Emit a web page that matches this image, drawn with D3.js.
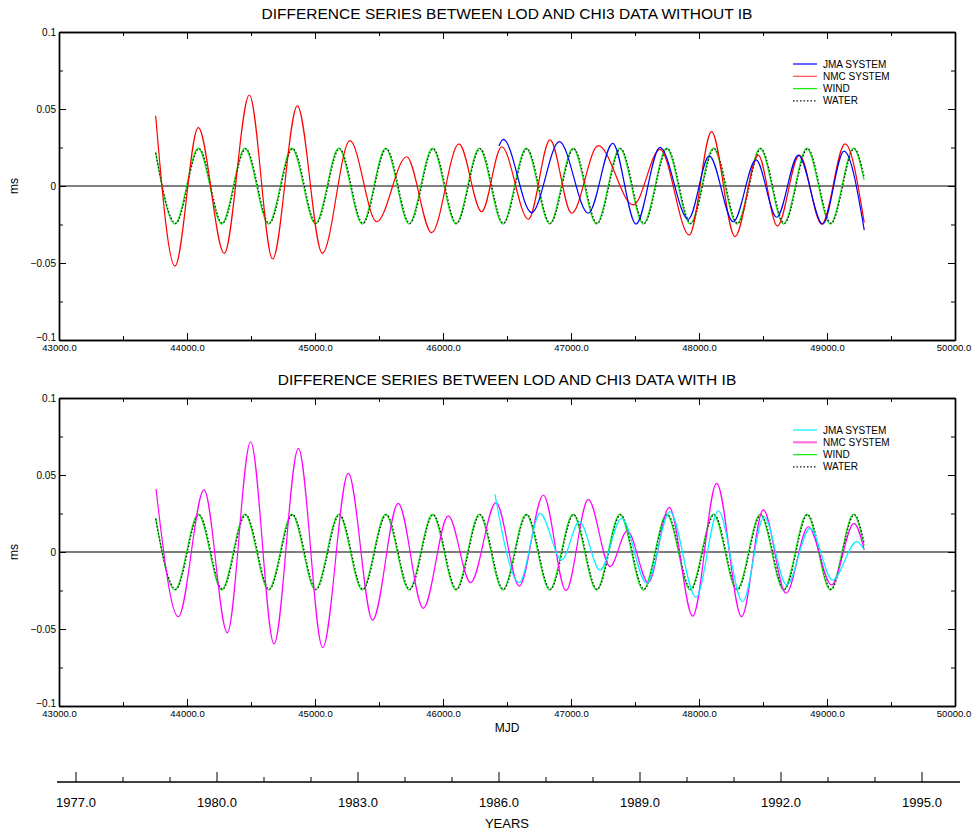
<!DOCTYPE html>
<html>
<head>
<meta charset="utf-8" />
<title>Difference series between LOD and CHI3 data</title>
<script src="https://d3js.org/d3.v7.min.js"></script>
<style>
  body { margin: 0; background: #fff; }
  svg text { font-family: "Liberation Sans", Arial, sans-serif; fill: #000; }
  .tick text { font-size: 10px; }
  .xaxis .tick text { font-size: 9.5px; }
  .legend text { font-size: 10px; }
  .domain, .tick line { stroke: #000; }
</style>
</head>
<body>
<svg width="972" height="834"></svg>
<script>
// tick values
const mjdMajor = [43000, 44000, 45000, 46000, 47000, 48000, 49000, 50000];
const mjdMinor = [43500, 44500, 45500, 46500, 47500, 48500, 49500];
const msMajor = [-0.1, -0.05, 0, 0.05, 0.1];
const msMinor = [-0.075, -0.025, 0.025, 0.075];
const yearMajor = [1977, 1980, 1983, 1986, 1989, 1992, 1995];
const yearMinor = [1978, 1979, 1981, 1982, 1984, 1985, 1987, 1988, 1990, 1991, 1993, 1994];

// series: [MJD, ms] at end points and turning points
const wind = [[43755, 0.0222], [43906, -0.0247], [44088, 0.0245], [44271, -0.0247], [44453, 0.0245],
  [44637, -0.0247], [44820, 0.0245], [45003, -0.0247], [45186, 0.0245], [45369, -0.0247],
  [45552, 0.0245], [45735, -0.0247], [45918, 0.0245], [46101, -0.0247], [46284, 0.0245],
  [46467, -0.0247], [46650, 0.0245], [46833, -0.0247], [47016, 0.0245], [47199, -0.0247],
  [47382, 0.0245], [47565, -0.0247], [47748, 0.0245], [47931, -0.0247], [48113, 0.0245],
  [48296, -0.0247], [48478, 0.0245], [48661, -0.0247], [48843, 0.0245], [49026, -0.0247],
  [49208, 0.0245], [49290, 0.0040]];

const water = [[43755, 0.0215], [43912, -0.0242], [44094, 0.0242], [44277, -0.0242], [44459, 0.0242],
  [44643, -0.0242], [44826, 0.0242], [45009, -0.0242], [45192, 0.0242], [45375, -0.0242],
  [45558, 0.0242], [45741, -0.0242], [45924, 0.0242], [46107, -0.0242], [46290, 0.0242],
  [46473, -0.0242], [46656, 0.0242], [46839, -0.0242], [47022, 0.0242], [47205, -0.0242],
  [47388, 0.0242], [47571, -0.0242], [47754, 0.0242], [47937, -0.0242], [48119, 0.0242],
  [48302, -0.0242], [48484, 0.0242], [48667, -0.0242], [48849, 0.0242], [49032, -0.0242],
  [49214, 0.0242], [49290, 0.0060]];

const nmcNoIB = [[43755, 0.0456], [43906, -0.0520], [44088, 0.0379], [44291, -0.0437], [44487, 0.0591],
  [44669, -0.0474], [44862, 0.0520], [45057, -0.0437], [45273, 0.0294], [45482, -0.0232],
  [45716, 0.0190], [45911, -0.0303], [46125, 0.0273], [46302, -0.0167], [46458, 0.0255],
  [46667, -0.0216], [46836, 0.0299], [47005, -0.0177], [47213, 0.0262], [47487, -0.0123],
  [47695, 0.0238], [47924, -0.0318], [48098, 0.0353], [48281, -0.0329], [48463, 0.0201],
  [48612, -0.0260], [48784, 0.0201], [48959, -0.0247], [49141, 0.0273], [49291, -0.0238]];

const jmaNoIB = [[46437, 0.0260], [46471, 0.0303], [46693, -0.0173], [46909, 0.0288], [47135, -0.0177],
  [47326, 0.0277], [47508, -0.0247], [47695, 0.0251], [47916, -0.0216], [48080, 0.0195],
  [48268, -0.0232], [48445, 0.0169], [48607, -0.0203], [48776, 0.0201], [48966, -0.0247],
  [49133, 0.0227], [49291, -0.0286]];

const nmcIB = [[43758, 0.0409], [43932, -0.0420], [44133, 0.0403], [44315, -0.0524], [44497, 0.0716],
  [44680, -0.0597], [44870, 0.0673], [45060, -0.0621], [45260, 0.0511], [45450, -0.0442],
  [45650, 0.0316], [45846, -0.0366], [46041, 0.0234], [46216, -0.0199], [46414, 0.0320],
  [46596, -0.0221], [46784, 0.0370], [46961, -0.0251], [47135, 0.0342], [47305, -0.0095],
  [47440, 0.0138], [47604, -0.0199], [47768, 0.0290], [47951, -0.0416], [48138, 0.0446],
  [48333, -0.0420], [48502, 0.0273], [48680, -0.0268], [48854, 0.0164], [49036, -0.0214],
  [49211, 0.0186], [49291, 0.0013]];

const jmaIB = [[46406, 0.0375], [46596, -0.0199], [46758, 0.0251], [46927, -0.0052], [47065, 0.0197],
  [47227, -0.0117], [47396, 0.0219], [47591, -0.0203], [47773, 0.0262], [47976, -0.0294],
  [48151, 0.0268], [48341, -0.0323], [48508, 0.0229], [48685, -0.0214], [48867, 0.0154],
  [49044, -0.0182], [49232, 0.0067], [49291, 0.0013]];

const svg = d3.select("svg");
const x = d3.scaleLinear().domain([43000, 50000]).range([59, 955]);

function panel(top, bottom, title, series) {
  const y = d3.scaleLinear().domain([-0.1, 0.1]).range([bottom, top]);
  const g = svg.append("g");

  g.append("text")
    .attr("x", 507).attr("y", top - 13)
    .attr("text-anchor", "middle")
    .style("font-size", "15.5px")
    .text(title);

  // axes, ticks pointing into the box
  const xAxis = g.append("g").attr("class", "xaxis").attr("transform", "translate(0," + bottom + ")")
    .call(d3.axisBottom(x).tickValues(mjdMajor).tickSize(-7).tickSizeOuter(0).tickPadding(4)
      .tickFormat(d => d.toFixed(1)));
  // keep the last label inside the page edge
  xAxis.selectAll(".tick text").filter(d => d === 50000).attr("x", -1.5);
  g.append("g").attr("transform", "translate(0," + bottom + ")")
    .call(d3.axisBottom(x).tickValues(mjdMinor).tickSize(-4).tickSizeOuter(0).tickFormat(""));
  g.append("g").attr("transform", "translate(0," + top + ")")
    .call(d3.axisTop(x).tickValues(mjdMajor).tickSize(-7).tickSizeOuter(0).tickFormat(""));
  g.append("g").attr("transform", "translate(0," + top + ")")
    .call(d3.axisTop(x).tickValues(mjdMinor).tickSize(-4).tickSizeOuter(0).tickFormat(""));
  const yAxis = g.append("g").attr("transform", "translate(59,0)")
    .call(d3.axisLeft(y).tickValues(msMajor).tickSize(-7).tickSizeOuter(0).tickPadding(3)
      .tickFormat(d3.format("")));
  // the lowest label sits a little above the corner, clear of the MJD label
  yAxis.selectAll(".tick text").filter(d => d === -0.1).attr("y", -3);
  g.append("g").attr("transform", "translate(59,0)")
    .call(d3.axisLeft(y).tickValues(msMinor).tickSize(-4).tickSizeOuter(0).tickFormat(""));
  g.append("g").attr("transform", "translate(955,0)")
    .call(d3.axisRight(y).tickValues(msMajor).tickSize(-7).tickSizeOuter(0).tickFormat(""));
  g.append("g").attr("transform", "translate(955,0)")
    .call(d3.axisRight(y).tickValues(msMinor).tickSize(-4).tickSizeOuter(0).tickFormat(""));
  g.selectAll(".domain").attr("stroke-width", 1.4);

  g.append("text")
    .attr("transform", "translate(18," + y(0) + ") rotate(-90)")
    .attr("text-anchor", "middle")
    .style("font-size", "12px")
    .text("ms");

  // zero line
  g.append("line")
    .attr("x1", x(43000)).attr("x2", x(50000))
    .attr("y1", y(0)).attr("y2", y(0))
    .attr("stroke", "#000").attr("stroke-width", 1.2);

  const line = d3.line()
    .x(d => x(d[0]))
    .y(d => y(d[1]))
    .curve(d3.curveMonotoneX);

  series.forEach(s => {
    g.append("path")
      .datum(s.data)
      .attr("fill", "none")
      .attr("stroke", s.color)
      .attr("stroke-width", s.width)
      .attr("stroke-dasharray", s.dash || null)
      .attr("d", line);
  });

  // legend
  const legend = g.append("g").attr("class", "legend");
  series.slice().sort((a, b) => a.order - b.order).forEach((s, i) => {
    const ly = top + 32 + i * 12.3;
    legend.append("line")
      .attr("x1", 793).attr("x2", 817)
      .attr("y1", ly).attr("y2", ly)
      .attr("stroke", s.legendColor || s.color)
      .attr("stroke-width", s.legendWidth || s.width)
      .attr("stroke-dasharray", s.dash || null);
    legend.append("text")
      .attr("x", 823).attr("y", ly)
      .attr("dy", "0.35em")
      .text(s.name);
  });
  return g;
}

panel(32, 340, "DIFFERENCE SERIES BETWEEN LOD AND CHI3 DATA WITHOUT IB", [
  { name: "WIND", data: wind, color: "#14ee14", width: 1.3, order: 2 },
  { name: "WATER", data: water, color: "#111", width: 1.2, dash: "1.5,2", order: 3 },
  { name: "NMC SYSTEM", data: nmcNoIB, color: "#ff0000", width: 1.2, legendColor: "#ff5050", order: 1 },
  { name: "JMA SYSTEM", data: jmaNoIB, color: "#0000ff", width: 1.2, order: 0 }
]);

panel(398, 706, "DIFFERENCE SERIES BETWEEN LOD AND CHI3 DATA WITH IB", [
  { name: "WIND", data: wind, color: "#14ee14", width: 1.3, order: 2 },
  { name: "WATER", data: water, color: "#111", width: 1.2, dash: "1.5,2", order: 3 },
  { name: "NMC SYSTEM", data: nmcIB, color: "#ff00ff", width: 1.2, legendColor: "#ff66dd", legendWidth: 2, order: 1 },
  { name: "JMA SYSTEM", data: jmaIB, color: "#00f0ff", width: 1.2, order: 0 }
]);

svg.append("text")
  .attr("x", 507).attr("y", 732)
  .attr("text-anchor", "middle")
  .style("font-size", "12px")
  .text("MJD");

// years axis
const yr = d3.scaleLinear().domain([1977, 1995]).range([76, 922]);
const years = svg.append("g").attr("transform", "translate(0,782)");
years.append("line")
  .attr("x1", 57).attr("x2", 960)
  .attr("stroke", "#000").attr("stroke-width", 1.3);
years.selectAll(".ymaj").data(yearMajor).enter().append("line")
  .attr("x1", d => yr(d)).attr("x2", d => yr(d))
  .attr("y1", 0).attr("y2", -10)
  .attr("stroke", "#000");
years.selectAll(".ymin").data(yearMinor).enter().append("line")
  .attr("x1", d => yr(d)).attr("x2", d => yr(d))
  .attr("y1", 0).attr("y2", -5)
  .attr("stroke", "#000");
years.selectAll(".ylab").data(yearMajor).enter().append("text")
  .attr("x", d => yr(d)).attr("y", 25)
  .attr("text-anchor", "middle")
  .style("font-size", "13px")
  .text(d => d.toFixed(1));
years.append("text")
  .attr("x", 507).attr("y", 46)
  .attr("text-anchor", "middle")
  .style("font-size", "13px")
  .text("YEARS");
</script>
</body>
</html>
